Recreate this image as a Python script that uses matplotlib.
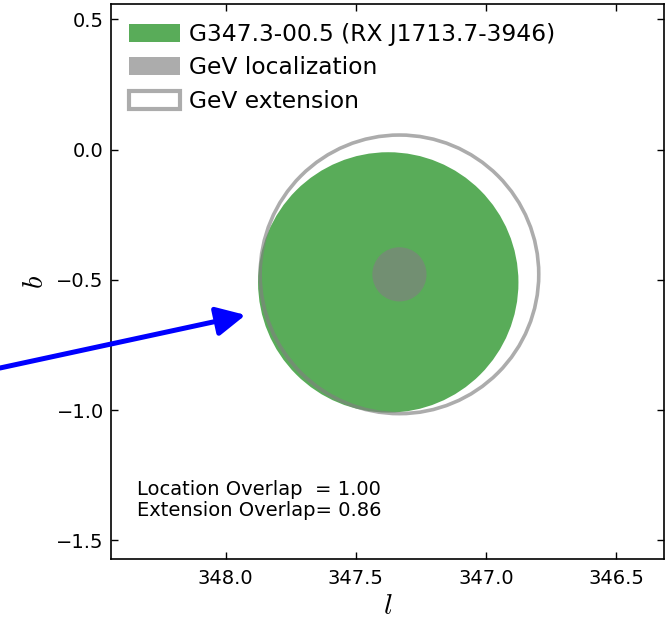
import matplotlib
matplotlib.use('Agg')
import matplotlib.pyplot as plt
from matplotlib.patches import Circle, Patch

# source positions (galactic l, b) and radii in degrees
snr_name = 'G347.3-00.5 (RX J1713.7-3946)'
snr_l = 347.375
snr_b = -0.51
snr_radius = 0.50

gev_l = 347.332
gev_b = -0.479
gev_loc_radius = 0.104
gev_ext_radius = 0.535

loc_overlap = 1.00
ext_overlap = 0.86

xlims = [348.441, 346.316]
ylims = [-1.573, 0.559]
xticks = [348.0, 347.5, 347.0, 346.5]
yticks = [0.5, 0.0, -0.5, -1.0, -1.5]

# arrow pointing at the SNR edge
arrow_tip = (347.923, -0.635)
arrow_tail_px = (0, 252)

plt.rcParams['mathtext.fontset'] = 'cm'
plt.rcParams['font.family'] = 'DejaVu Sans'

fig = plt.figure(figsize=(6.72, 6.2), dpi=100)
ax = fig.add_axes([0.1647, 0.098, 0.8234, 0.8955])

ax.add_patch(Circle((snr_l, snr_b), snr_radius, facecolor='green', edgecolor='none', alpha=0.65))
ax.add_patch(Circle((gev_l, gev_b), gev_loc_radius, facecolor='gray', edgecolor='none', alpha=0.65))
ax.add_patch(Circle((gev_l, gev_b), gev_ext_radius, facecolor='none', edgecolor='gray', lw=2.6, alpha=0.65))

ax.set_xlim(xlims)
ax.set_ylim(ylims)
ax.set_aspect('equal', adjustable='box')
ax.set_xticks(xticks)
ax.set_yticks(yticks)
ax.set_xticklabels(['%.1f' % t for t in xticks])
ax.set_yticklabels([('%.1f' % t).replace('-', '\u2212') for t in yticks])
ax.tick_params(direction='in', top=True, right=True, length=5, width=1, labelsize=14)
ax.tick_params(axis='x', pad=7)
ax.tick_params(axis='y', pad=5)
for s in ax.spines.values():
    s.set_linewidth(1.2)

ax.set_xlabel('$l$', fontsize=21, labelpad=3)
ax.set_ylabel('$b$', fontsize=21, labelpad=5)

handles = [Patch(facecolor='green', edgecolor='none', alpha=0.65),
           Patch(facecolor='gray', edgecolor='none', alpha=0.65),
           Patch(facecolor='white', edgecolor=(0.5, 0.5, 0.5, 0.65), lw=3)]
ax.legend(handles, [snr_name, 'GeV localization', 'GeV extension'],
          loc='upper left', frameon=False, fontsize=16.8, handlelength=2.15,
          handleheight=0.8, handletextpad=0.4, labelspacing=0.45,
          borderaxespad=0.5, borderpad=0.3)

ax.text(0.048, 0.071, 'Location Overlap  = %.2f\nExtension Overlap= %.2f' % (loc_overlap, ext_overlap),
        transform=ax.transAxes, fontsize=14, va='bottom', ha='left', linespacing=1.1)

ax.annotate('', xy=arrow_tip, xycoords='data',
            xytext=arrow_tail_px, textcoords='figure pixels',
            arrowprops=dict(arrowstyle='-|>', color='blue', lw=3.6,
                            mutation_scale=44, shrinkA=0, shrinkB=0),
            annotation_clip=False)

fig.savefig('out.png', dpi=100)
